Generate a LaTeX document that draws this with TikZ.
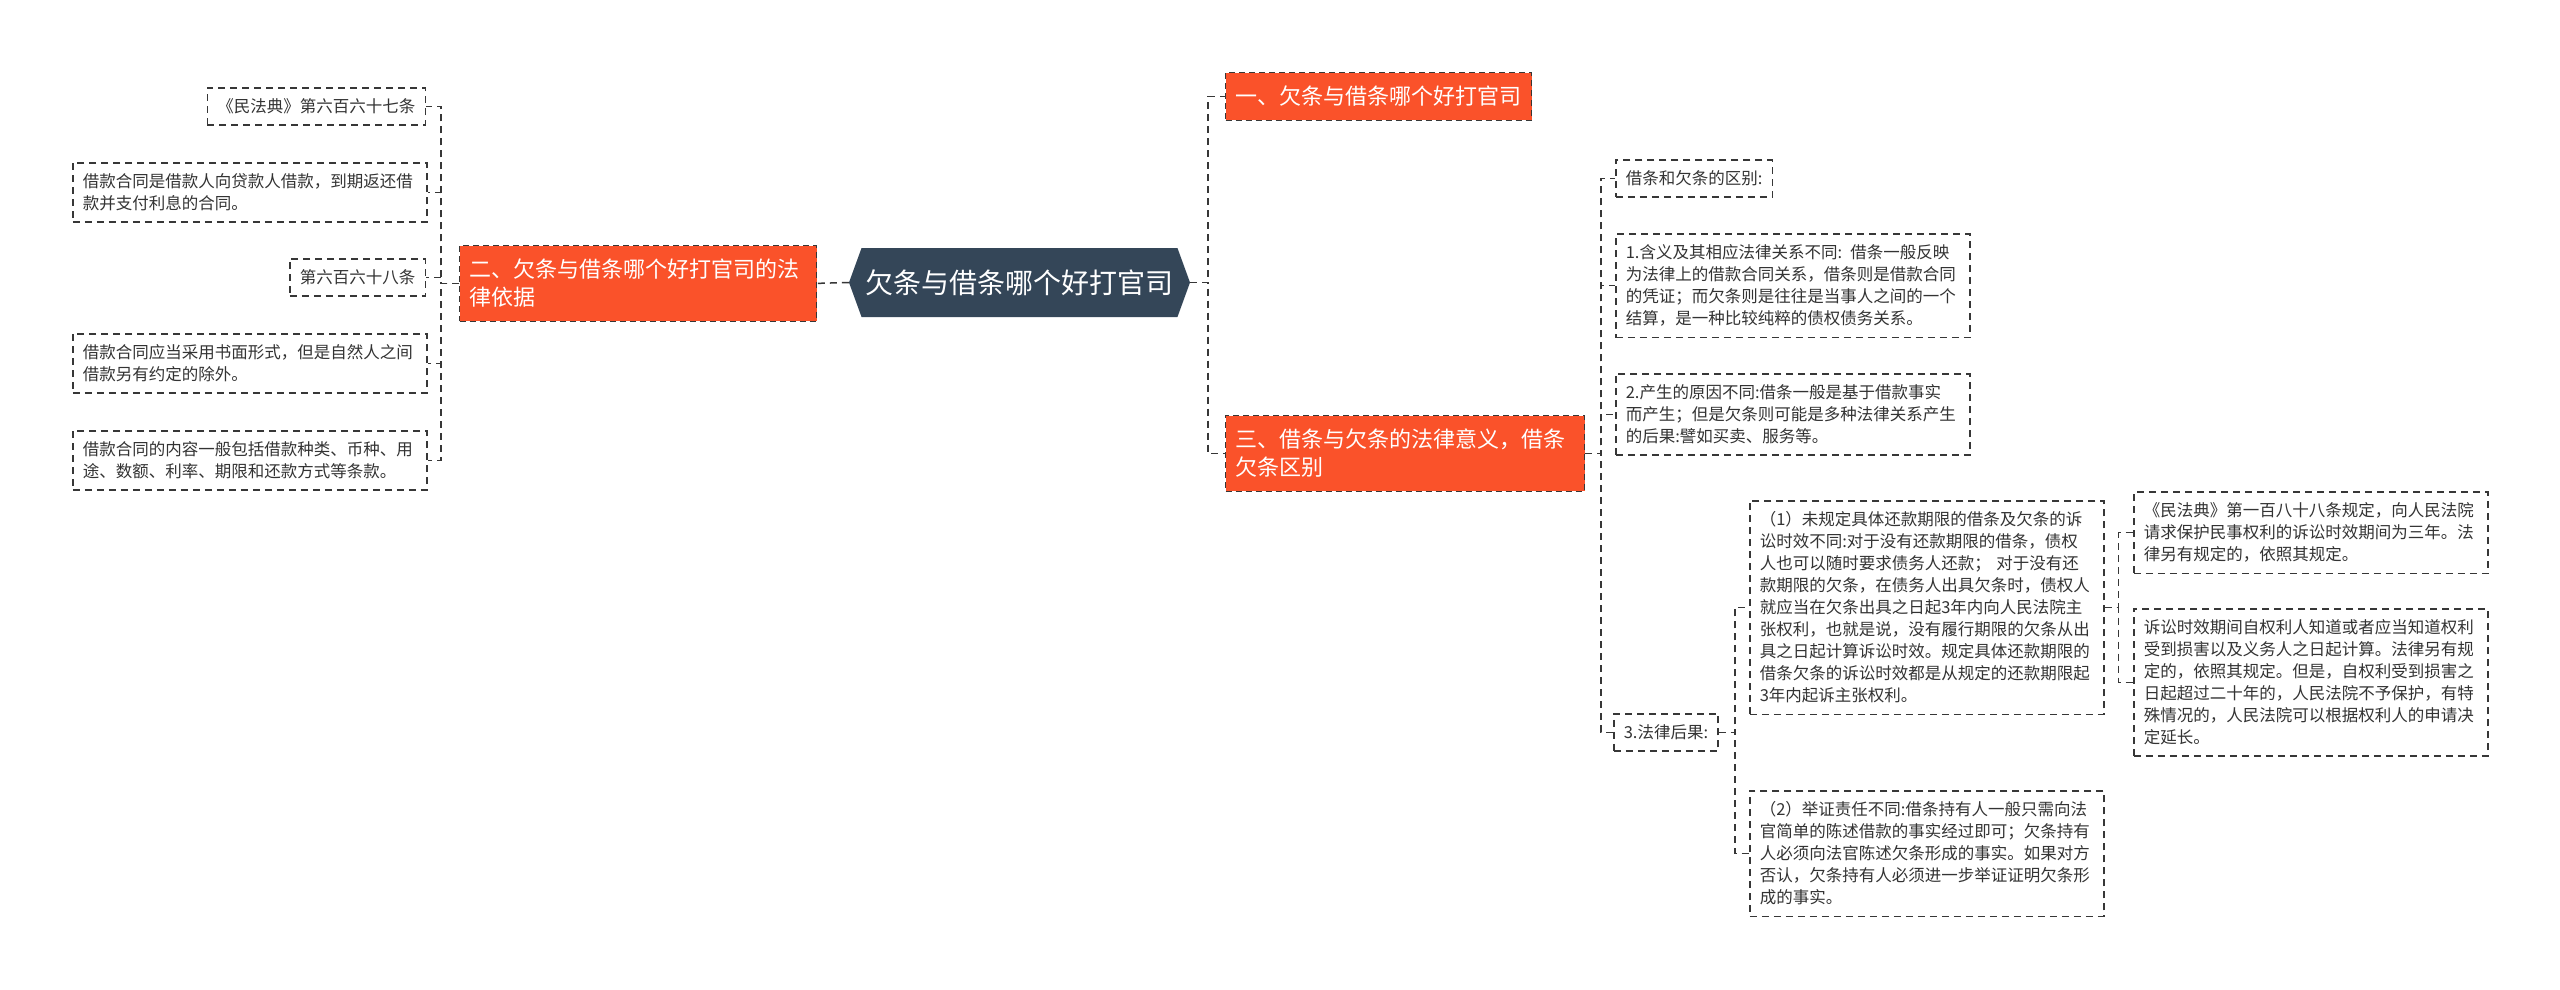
\documentclass[tikz,border=0pt]{standalone}
\usepackage{fontspec}
\setmainfont{Noto Sans CJK SC}
\usetikzlibrary{shapes.symbols}
\definecolor{topicred}{RGB}{250,82,42}
\definecolor{rootslate}{RGB}{52,70,88}
\definecolor{linegray}{RGB}{55,55,55}
\definecolor{textgray}{RGB}{51,51,51}
\tikzset{
	leaf/.style = {draw = linegray, line width = 1.5pt, dash pattern = on 7pt off 5pt, inner xsep = 10pt, inner ysep = 11pt, text = textgray, align = left, font = \fontsize{16.5}{22}\selectfont},
	wideleaf/.style = {leaf, text width = 334pt},
	topic/.style = {fill = topicred, draw = linegray, line width = 1.2pt, dash pattern = on 6pt off 4pt, inner xsep = 10pt, inner ysep = 13.5pt, text = white, align = left, font = \fontsize{22}{28}\selectfont},
	rootnode/.style = {shape = signal, signal to = west and east, signal pointer angle = 140, fill = rootslate, text = white, minimum width = 341pt, minimum height = 69pt, inner sep = 2pt, font = \fontsize{28}{32}\selectfont},
	link/.style = {draw = linegray, line width = 1.5pt, dash pattern = on 7pt off 5pt},
}
\begin{document}
\begin{tikzpicture}[x = 1pt, y = -1pt]
	\useasboundingbox [fill = white] (0,0) rectangle (2560,989);
	\node [rootnode] (root) at (1019.5,282.5) {欠条与借条哪个好打官司};
	\node [topic, text width = 337pt, anchor = north west] (law) at (459,245) {二、欠条与借条哪个好打官司的法\\律依据};
	\node [topic, anchor = north west] (which) at (1225,72) {一、欠条与借条哪个好打官司};
	\node [topic, text width = 339pt, anchor = north west] (diff) at (1225,415) {三、借条与欠条的法律意义，借条\\欠条区别};
	\node [leaf, anchor = north east] (art667) at (426,87) {《民法典》第六百六十七条};
	\node [wideleaf, anchor = north west] (loandef) at (72,162) {借款合同是借款人向贷款人借款，到期返还借\\款并支付利息的合同。};
	\node [leaf, anchor = north east] (art668) at (426,258) {第六百六十八条};
	\node [wideleaf, anchor = north west] (written) at (72,333) {借款合同应当采用书面形式，但是自然人之间\\借款另有约定的除外。};
	\node [wideleaf, anchor = north west] (content) at (72,430) {借款合同的内容一般包括借款种类、币种、用\\途、数额、利率、期限和还款方式等条款。};
	\node [leaf, anchor = north west] (difftitle) at (1615,159) {借条和欠条的区别:};
	\node [wideleaf, anchor = north west] (meaning) at (1615,233) {1.含义及其相应法律关系不同: 借条一般反映\\为法律上的借款合同关系，借条则是借款合同\\的凭证；而欠条则是往往是当事人之间的一个\\结算，是一种比较纯粹的债权债务关系。};
	\node [wideleaf, anchor = north west] (cause) at (1615,373) {2.产生的原因不同:借条一般是基于借款事实\\而产生；但是欠条则可能是多种法律关系产生\\的后果:譬如买卖、服务等。};
	\node [leaf, anchor = north west] (result) at (1613,713) {3.法律后果:};
	\node [wideleaf, anchor = north west] (limit) at (1749,500) {（1）未规定具体还款期限的借条及欠条的诉\\讼时效不同:对于没有还款期限的借条，债权\\人也可以随时要求债务人还款； 对于没有还\\款期限的欠条，在债务人出具欠条时，债权人\\就应当在欠条出具之日起3年内向人民法院主\\张权利，也就是说，没有履行期限的欠条从出\\具之日起计算诉讼时效。规定具体还款期限的\\借条欠条的诉讼时效都是从规定的还款期限起\\3年内起诉主张权利。};
	\node [wideleaf, anchor = north west] (proof) at (1749,790) {（2）举证责任不同:借条持有人一般只需向法\\官简单的陈述借款的事实经过即可；欠条持有\\人必须向法官陈述欠条形成的事实。如果对方\\否认，欠条持有人必须进一步举证证明欠条形\\成的事实。};
	\node [wideleaf, anchor = north west] (art188) at (2133,491) {《民法典》第一百八十八条规定，向人民法院\\请求保护民事权利的诉讼时效期间为三年。法\\律另有规定的，依照其规定。};
	\node [wideleaf, anchor = north west] (period) at (2133,608) {诉讼时效期间自权利人知道或者应当知道权利\\受到损害以及义务人之日起计算。法律另有规\\定的，依照其规定。但是，自权利受到损害之\\日起超过二十年的，人民法院不予保护，有特\\殊情况的，人民法院可以根据权利人的申请决\\定延长。};
	\draw [link] (root.west) -- (law.east);
	\foreach \leafname in {art667, loandef, art668, written, content}
		\draw [link] (law.west) -- ++(-18,0) |- (\leafname.east);
	\foreach \leafname in {which, diff}
		\draw [link] (root.east) -- ++(18,0) |- (\leafname.west);
	\foreach \leafname in {difftitle, meaning, cause, result}
		\draw [link] (diff.east) -- ++(16,0) |- (\leafname.west);
	\foreach \leafname in {limit, proof}
		\draw [link] (result.east) -- ++(16,0) |- (\leafname.west);
	\foreach \leafname in {art188, period}
		\draw [link] (limit.east) -- ++(14,0) |- (\leafname.west);
\end{tikzpicture}
\end{document}
